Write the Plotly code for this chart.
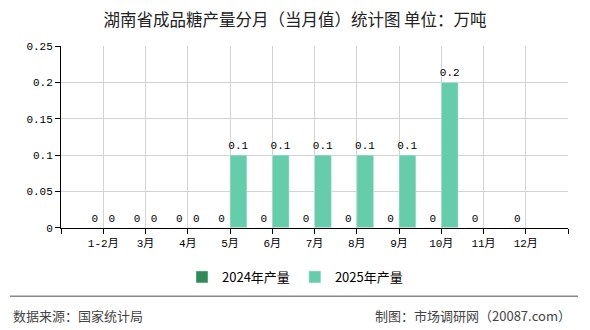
import plotly.graph_objects as go

categories = ["1-2月", "3月", "4月", "5月", "6月", "7月", "8月", "9月", "10月", "11月", "12月"]
values_2024 = [0, 0, 0, 0, 0, 0, 0, 0, 0, 0, 0]
values_2025 = [0, 0, 0, 0.1, 0.1, 0.1, 0.1, 0.1, 0.2, None, None]
y_ticks = [0, 0.05, 0.1, 0.15, 0.2, 0.25]
y_tick_text = ["0", "0.05", "0.1", "0.15", "0.2", "0.25"]

W, H = 590, 330
L, R, T, B = 61, 22, 46, 101
pw, ph = W - L - R, H - T - B

def px_x(p):
    return (p - L) / pw

def px_y(p):
    return (H - B - p) / ph

num_font = "Liberation Mono, Noto Sans CJK SC, monospace"
cjk_font = "Noto Sans CJK SC, sans-serif"

xs = list(range(len(categories)))

def fmt(v):
    return "" if v is None else ("0" if v == 0 else f"{v:g}")

fig = go.Figure()
fig.add_trace(go.Bar(
    x=xs, y=values_2024, name="2024年产量", marker_color="#2e8b57",
    text=[fmt(v) for v in values_2024], textposition="outside", constraintext="none",
    textfont=dict(family=num_font, size=11, color="#000"), cliponaxis=False,
))
fig.add_trace(go.Bar(
    x=xs, y=values_2025, name="2025年产量", marker_color="#66cdaa",
    text=[fmt(v) for v in values_2025], textposition="outside", constraintext="none",
    textfont=dict(family=num_font, size=11, color="#000"), cliponaxis=False,
))

tickvals = [-1] + xs + [len(categories)]
ticktext = [""] + categories + [""]

fig.update_layout(
    width=W, height=H,
    margin=dict(l=L, r=R, t=T, b=B),
    paper_bgcolor="white", plot_bgcolor="white",
    barmode="group", bargap=0.2, bargroupgap=0,
    uniformtext=dict(mode=False),
    title=dict(text="湖南省成品糖产量分月（当月值）统计图 单位：万吨",
               x=0.5, xref="container", xanchor="center",
               y=1 - 20 / H, yref="container", yanchor="middle",
               font=dict(family=cjk_font, size=16.5, color="#222")),
    showlegend=True,
    legend=dict(orientation="h", x=0.5, xanchor="center", xref="container",
                y=1 - 277 / H, yref="container", yanchor="middle",
                font=dict(family=cjk_font, size=13, color="#000"),
                itemwidth=30, traceorder="normal"),
    xaxis=dict(range=[-1, len(categories)], tickmode="array",
               tickvals=tickvals, ticktext=ticktext,
               showgrid=True, gridcolor="#d3d3d3", gridwidth=1,
               showline=True, linecolor="#000", linewidth=1,
               ticks="outside", ticklen=5, tickcolor="#000",
               tickfont=dict(family=num_font, size=11, color="#000"),
               zeroline=False, fixedrange=True),
    yaxis=dict(range=[0, 0.25], tickmode="array",
               tickvals=y_ticks, ticktext=y_tick_text,
               showgrid=True, gridcolor="#d3d3d3", gridwidth=1,
               showline=True, linecolor="#000", linewidth=1,
               ticks="outside", ticklen=5, tickcolor="#000",
               tickfont=dict(family=num_font, size=11, color="#000"),
               zeroline=False, fixedrange=True),
    shapes=[dict(type="line", xref="paper", yref="paper",
                 x0=px_x(10), x1=px_x(578), y0=px_y(298), y1=px_y(298),
                 line=dict(color="#888", width=1.5))],
    annotations=[
        dict(text="数据来源：国家统计局", xref="paper", yref="paper",
             x=px_x(11), y=px_y(317), xanchor="left", yanchor="middle",
             showarrow=False, font=dict(family=cjk_font, size=13, color="#444")),
        dict(text="制图：市场调研网（20087.com）", xref="paper", yref="paper",
             x=px_x(573), y=px_y(317), xanchor="right", yanchor="middle",
             showarrow=False, font=dict(family=cjk_font, size=13, color="#444")),
    ],
)

fig.write_html("out.html")
